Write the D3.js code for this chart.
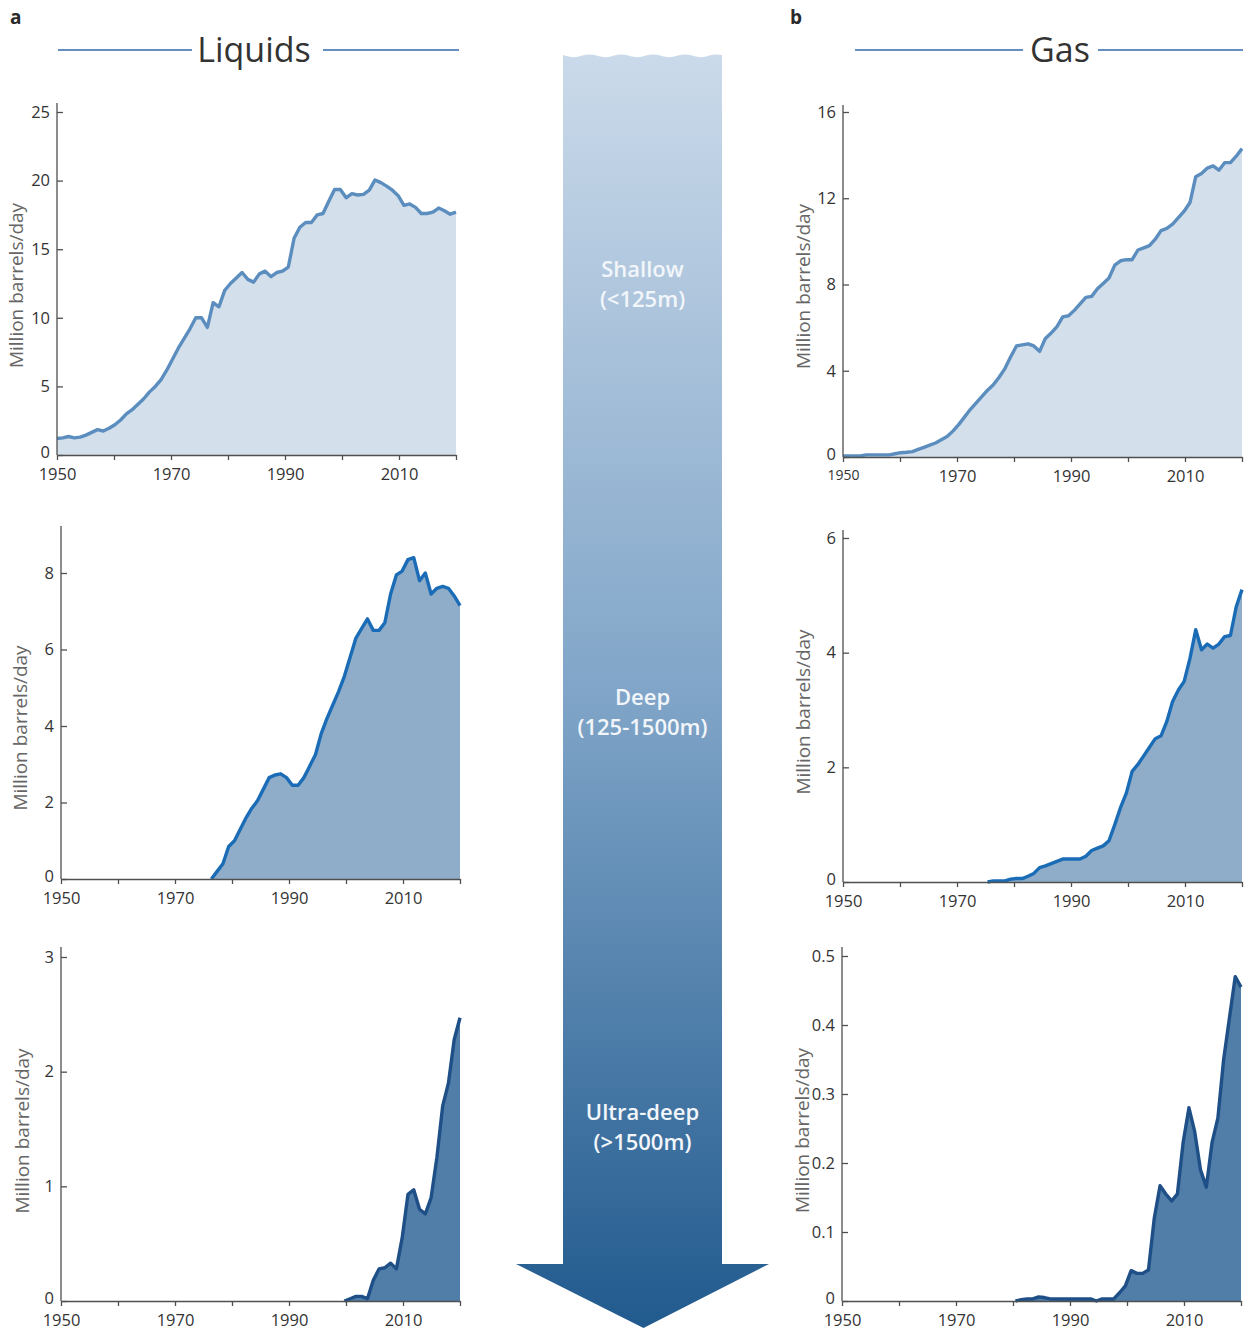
<!DOCTYPE html>
<html>
<head>
<meta charset="utf-8">
<script src="https://cdn.jsdelivr.net/npm/d3@7"></script>
<style>
  html, body { margin: 0; padding: 0; background: #fff; }
  svg { display: block; font-family: "Open Sans", "Noto Sans", sans-serif; }
</style>
</head>
<body>
<svg id="chart" width="1256" height="1331"></svg>
<script>
// ---------------- DATA ----------------
const dataStartYear = 1950;
const dataEndYear = 2019;           // data plotted across the 1950–2020 axis span
const xTicks = [1950, 1960, 1970, 1980, 1990, 2000, 2010, 2020];
const xTickLabels = [1950, 1970, 1990, 2010];

const liquidsShallowFrom = 1950;
const liquidsShallow = [
  1.2, 1.25, 1.35, 1.25, 1.3, 1.45, 1.65, 1.85, 1.75, 1.95,
  2.2, 2.55, 3.0, 3.3, 3.7, 4.1, 4.6, 5.0, 5.5, 6.2,
  7.0, 7.8, 8.5, 9.2, 10.0, 10.0, 9.3, 11.1, 10.8, 12.0,
  12.5, 12.9, 13.3, 12.8, 12.6, 13.2, 13.4, 13.0, 13.3, 13.4,
  13.7, 15.8, 16.6, 16.95, 16.95, 17.5, 17.6, 18.5, 19.35, 19.35,
  18.75, 19.05, 18.95, 19.0, 19.3, 20.05, 19.85, 19.6, 19.3, 18.9,
  18.2, 18.3, 18.05, 17.6, 17.6, 17.7, 18.0, 17.8, 17.55, 17.7
];

const liquidsDeepFrom = 1976;
const liquidsDeep = [
  0, 0.2, 0.4, 0.85,
  1.0, 1.3, 1.6, 1.85, 2.05,
  2.35, 2.65, 2.72, 2.75, 2.65,
  2.45, 2.45, 2.65, 2.95, 3.25,
  3.8, 4.2, 4.55, 4.9, 5.3,
  5.8, 6.3, 6.55, 6.8, 6.5,
  6.5, 6.7, 7.45, 7.95, 8.05,
  8.35, 8.4, 7.8, 8.0, 7.45,
  7.6, 7.65, 7.6, 7.4, 7.15
];

const liquidsUltraDeepFrom = 1999;
const liquidsUltraDeep = [
  0,
  0.02, 0.04, 0.04, 0.02,
  0.18, 0.28, 0.29, 0.33, 0.28,
  0.55, 0.93, 0.97, 0.8, 0.76,
  0.9, 1.25, 1.7, 1.9, 2.28,
  2.47
];

const gasShallowFrom = 1950;
const gasShallow = [
  0.05, 0.05, 0.05, 0.05, 0.1, 0.1, 0.1, 0.1, 0.1, 0.15,
  0.2, 0.22, 0.25, 0.35, 0.45, 0.55, 0.65, 0.8, 0.95, 1.2,
  1.5, 1.85, 2.2, 2.5, 2.8, 3.1, 3.35, 3.7, 4.1, 4.65,
  5.15, 5.2, 5.25, 5.15, 4.9, 5.5, 5.75, 6.05, 6.5, 6.55,
  6.8, 7.1, 7.4, 7.45, 7.8, 8.05, 8.3, 8.9, 9.1, 9.15,
  9.15, 9.6, 9.7, 9.8, 10.1, 10.5, 10.6, 10.8, 11.1, 11.4,
  11.8, 13.0, 13.15, 13.4, 13.5, 13.3, 13.65, 13.65, 13.95, 14.3
];

const gasDeepFrom = 1975;
const gasDeep = [
  0, 0.02, 0.02, 0.02, 0.05,
  0.06, 0.06, 0.1, 0.15, 0.25,
  0.28, 0.32, 0.36, 0.4, 0.4,
  0.4, 0.4, 0.45, 0.55, 0.59,
  0.63, 0.72, 1.0, 1.3, 1.55,
  1.93, 2.05, 2.2, 2.35, 2.5,
  2.55, 2.8, 3.15, 3.35, 3.5,
  3.9, 4.4, 4.05, 4.15, 4.08,
  4.15, 4.28, 4.3, 4.8, 5.1
];

const gasUltraDeepFrom = 1980;
const gasUltraDeep = [
  0, 0.002, 0.003, 0.003, 0.006,
  0.005, 0.003, 0.003, 0.003, 0.003,
  0.003, 0.003, 0.003, 0.003, 0.0,
  0.003, 0.003, 0.003, 0.012, 0.022,
  0.044, 0.04, 0.04, 0.045, 0.12,
  0.167, 0.155, 0.145, 0.155, 0.23,
  0.28, 0.245, 0.19, 0.165, 0.23,
  0.265, 0.35, 0.41, 0.47, 0.455
];

const yTicksLiquidsShallow = [0, 5, 10, 15, 20, 25];
const yTicksLiquidsDeep = [0, 2, 4, 6, 8];
const yTicksLiquidsUltraDeep = [0, 1, 2, 3];
const yTicksGasShallow = [0, 4, 8, 12, 16];
const yTicksGasDeep = [0, 2, 4, 6];
const yTicksGasUltraDeep = [0, 0.1, 0.2, 0.3, 0.4, 0.5];

const sectionTitles = ["Liquids", "Gas"];
const panelLetters = ["a", "b"];
const depthLabels = [["Shallow", "(<125m)"], ["Deep", "(125-1500m)"], ["Ultra-deep", "(>1500m)"]];
const yAxisTitle = "Million barrels/day";

// ---------------- LAYOUT / STYLE ----------------
const styles = [
  { fill: "#d3dfea", stroke: "#5b8ebf" },
  { fill: "#8fadc8", stroke: "#1b6cb6" },
  { fill: "#517ea8", stroke: "#1e4f87" }
];

const panels = [
  { values: liquidsShallow, from: liquidsShallowFrom, ticks: yTicksLiquidsShallow, max: 25, x0: 57, x1: 456, yb: 455, yt: 112, axisTop: 103, style: 0, titleX: 16, smallFirst: false },
  { values: liquidsDeep, from: liquidsDeepFrom, ticks: yTicksLiquidsDeep, max: 8, x0: 61, x1: 460, yb: 879, yt: 573, axisTop: 526, style: 1, titleX: 20, smallFirst: false },
  { values: liquidsUltraDeep, from: liquidsUltraDeepFrom, ticks: yTicksLiquidsUltraDeep, max: 3, x0: 61, x1: 460, yb: 1301, yt: 957, axisTop: 947, style: 2, titleX: 22, smallFirst: false },
  { values: gasShallow, from: gasShallowFrom, ticks: yTicksGasShallow, max: 16, x0: 843, x1: 1242, yb: 457, yt: 112, axisTop: 105, style: 0, titleX: 803, smallFirst: true },
  { values: gasDeep, from: gasDeepFrom, ticks: yTicksGasDeep, max: 6, x0: 843, x1: 1242, yb: 882, yt: 538, axisTop: 530, style: 1, titleX: 803, smallFirst: false },
  { values: gasUltraDeep, from: gasUltraDeepFrom, ticks: yTicksGasUltraDeep, max: 0.5, x0: 842, x1: 1241, yb: 1301, yt: 956, axisTop: 947, style: 2, titleX: 802, smallFirst: false }
];

const svg = d3.select("#chart");
const textColor = "#333";
const axisColor = "#4f4f4f";

// ---------------- ARROW ----------------
const defs = svg.append("defs");
const grad = defs.append("linearGradient").attr("id", "depthGrad")
  .attr("x1", 0).attr("y1", 0).attr("x2", 0).attr("y2", 1);
grad.append("stop").attr("offset", "0%").attr("stop-color", "#cbdaea");
grad.append("stop").attr("offset", "50%").attr("stop-color", "#80a5c8");
grad.append("stop").attr("offset", "100%").attr("stop-color", "#215a8e");

const ax = { l: 563, r: 722, top: 55, shaftEnd: 1264, hl: 516, hr: 769, tip: 1328 };
const waveCount = 5;
const waveW = (ax.r - ax.l) / waveCount;
let p = d3.path();
p.moveTo(ax.l, ax.top);
for (let i = 0; i < waveCount; i++) {
  const sx = ax.l + i * waveW;
  p.quadraticCurveTo(sx + waveW * 0.25, ax.top + 3.2, sx + waveW * 0.5, ax.top + 1.6);
  p.quadraticCurveTo(sx + waveW * 0.75, ax.top - 1.6, sx + waveW, ax.top);
}
p.lineTo(ax.r, ax.shaftEnd);
p.lineTo(ax.hr, ax.shaftEnd);
p.lineTo((ax.l + ax.r) / 2 + 1, ax.tip);
p.lineTo(ax.hl, ax.shaftEnd);
p.lineTo(ax.l, ax.shaftEnd);
p.closePath();
svg.append("path").attr("d", p.toString()).attr("fill", "url(#depthGrad)");

const depthBaselines = [[277, 307], [705, 735], [1120, 1150]];
depthLabels.forEach((lines, i) => {
  lines.forEach((t, j) => {
    svg.append("text")
      .attr("x", (ax.l + ax.r) / 2)
      .attr("y", depthBaselines[i][j])
      .attr("text-anchor", "middle")
      .attr("font-size", 22)
      .attr("font-weight", 600)
      .attr("fill", "#f2f6fa")
      .text(t);
  });
});

// ---------------- TITLES ----------------
const titleSpecs = [
  { cx: 254, l1: [58, 192], l2: [323, 459], letterX: 10 },
  { cx: 1060, l1: [855, 1023], l2: [1098, 1243], letterX: 790 }
];
titleSpecs.forEach((s, i) => {
  svg.append("line").attr("x1", s.l1[0]).attr("x2", s.l1[1]).attr("y1", 50).attr("y2", 50)
    .attr("stroke", "#2f69a8").attr("stroke-width", 1.4);
  svg.append("line").attr("x1", s.l2[0]).attr("x2", s.l2[1]).attr("y1", 50).attr("y2", 50)
    .attr("stroke", "#2f69a8").attr("stroke-width", 1.4);
  svg.append("text").attr("x", s.cx).attr("y", 62).attr("text-anchor", "middle")
    .attr("font-size", 34).attr("fill", textColor).text(sectionTitles[i]);
  svg.append("text").attr("x", s.letterX).attr("y", 24)
    .attr("font-size", 19).attr("font-weight", 700).attr("fill", "#2a2a2a").text(panelLetters[i]);
});

// ---------------- PANELS ----------------
panels.forEach(pn => {
  const st = styles[pn.style];
  const xAxisScale = d3.scaleLinear().domain([1950, 2020]).range([pn.x0, pn.x1]);
  const xData = d3.scaleLinear().domain([dataStartYear, dataEndYear]).range([pn.x0, pn.x1]);
  const y = d3.scaleLinear().domain([0, pn.max]).range([pn.yb, pn.yt]);
  const pts = pn.values.map((v, i) => ({ year: pn.from + i, v }));

  const g = svg.append("g");

  const area = d3.area().x(d => xData(d.year)).y0(y(0)).y1(d => y(d.v));
  const line = d3.line().x(d => xData(d.year)).y(d => y(d.v));

  g.append("path").attr("d", area(pts)).attr("fill", st.fill);
  g.append("path").attr("d", line(pts)).attr("fill", "none")
    .attr("stroke", st.stroke).attr("stroke-width", 3.4)
    .attr("stroke-linejoin", "round").attr("stroke-linecap", "butt");

  // y axis line (extends above the top tick)
  g.append("line").attr("x1", pn.x0).attr("x2", pn.x0)
    .attr("y1", y(0)).attr("y2", pn.axisTop)
    .attr("stroke", axisColor).attr("stroke-width", 1.3);

  const yAxis = d3.axisLeft(y).tickValues(pn.ticks).tickSize(-6).tickPadding(7)
    .tickFormat(d3.format("~g"));
  const ya = g.append("g").attr("transform", `translate(${pn.x0},0)`).call(yAxis);
  ya.select(".domain").remove();
  ya.selectAll(".tick line").attr("stroke", axisColor).attr("stroke-width", 1.3);
  ya.selectAll(".tick text").attr("font-size", 16.5).attr("fill", textColor)
    .attr("font-family", '"Open Sans", sans-serif')
    .attr("dy", d => d === 0 ? "0.13em" : "0.32em");

  const xAxis = d3.axisBottom(xAxisScale).tickValues(xTicks).tickSize(5).tickSizeOuter(0).tickPadding(8)
    .tickFormat(d => xTickLabels.includes(d) ? String(d) : "");
  const xa = g.append("g").attr("transform", `translate(0,${y(0)})`).call(xAxis);
  xa.select(".domain").attr("stroke", axisColor).attr("stroke-width", 1.3);
  xa.selectAll(".tick line").attr("stroke", axisColor).attr("stroke-width", 1.3);
  xa.selectAll(".tick text").attr("font-size", d => (pn.smallFirst && d === 1950) ? 14 : 16.5)
    .attr("fill", textColor).attr("font-family", '"Open Sans", sans-serif');

  // y axis title
  const cy = (pn.yb + pn.yt) / 2 + 2;
  g.append("text")
    .attr("transform", `translate(${pn.titleX},${cy}) rotate(-90)`)
    .attr("text-anchor", "middle").attr("dy", "0.35em")
    .attr("font-size", 19).attr("fill", "#666")
    .text(yAxisTitle);
});
</script>
</body>
</html>
